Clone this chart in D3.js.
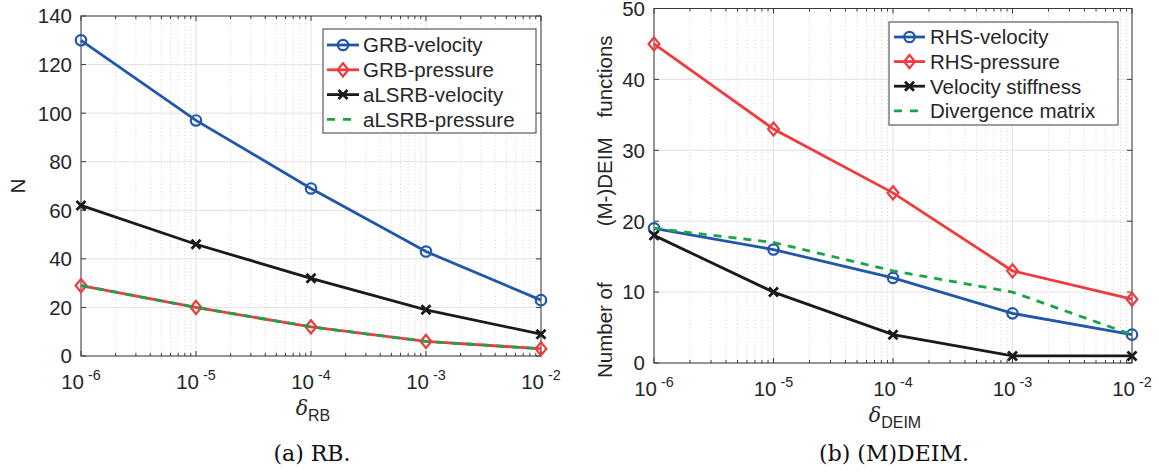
<!DOCTYPE html>
<html>
<head>
<meta charset="utf-8">
<script src="https://cdn.jsdelivr.net/npm/d3@7"></script>
<style>
  body { margin: 0; background: #fff; }
  svg { display: block; }
</style>
</head>
<body>
<div id="chart"></div>
<script>
// tolerances on the x axis (shared by both panels)
const deltas = [1e-6, 1e-5, 1e-4, 1e-3, 1e-2];

// (a) RB
const grbVelocity = [130, 97, 69, 43, 23];
const grbPressure = [29, 20, 12, 6, 3];
const alsrbVelocity = [62, 46, 32, 19, 9];
const alsrbPressure = [29, 20, 12, 6, 3];

// (b) (M)DEIM
const rhsVelocity = [19, 16, 12, 7, 4];
const rhsPressure = [45, 33, 24, 13, 9];
const velocityStiffness = [18, 10, 4, 1, 1];
const divergenceMatrix = [19, 17, 13, 10, 4];

const rbTicks = [0, 20, 40, 60, 80, 100, 120, 140];
const deimTicks = [0, 10, 20, 30, 40, 50];
const xExponents = ["-6", "-5", "-4", "-3", "-2"];

const BLUE = "#2157a8", RED = "#ee3b3d", BLACK = "#1a1a1a", GREEN = "#1aa34a";
const TEXT = "#262626";
const SANS = "'Liberation Sans', Arial, Helvetica, sans-serif";
const SERIF = "'DejaVu Serif', 'Liberation Serif', serif";
const FS = 20.5;

const width = 1159, height = 474;
const svg = d3.select("#chart").append("svg")
    .attr("width", width)
    .attr("height", height)
    .attr("viewBox", `0 0 ${width} ${height}`);

function drawMarker(sel, type, color) {
    if (type === "o") {
        sel.append("circle").attr("r", 5.2)
            .attr("fill", "none").attr("stroke", color).attr("stroke-width", 2.2);
    } else if (type === "d") {
        sel.append("path").attr("d", "M0,-6.6L5.4,0L0,6.6L-5.4,0Z")
            .attr("fill", "none").attr("stroke", color).attr("stroke-width", 2.2);
    } else if (type === "x") {
        sel.append("path").attr("d", "M-4.5,-4.5L4.5,4.5M-4.5,4.5L4.5,-4.5")
            .attr("fill", "none").attr("stroke", color).attr("stroke-width", 2.8);
    }
}

function drawPanel(p) {
    const x = d3.scaleLog().domain([1e-6, 1e-2]).range([p.left, p.right]);
    const y = d3.scaleLinear().domain([0, p.yMax]).range([p.bottom, p.top]);
    const g = svg.append("g");

    // Minor x values for the log grid
    const minors = [];
    for (let e = -6; e < -2; e++) {
        for (let k = 2; k <= 9; k++) minors.push(k * Math.pow(10, e));
    }

    // Grid: minor dotted verticals, major solid
    g.selectAll(".minor-grid").data(minors).join("line")
        .attr("x1", d => x(d)).attr("x2", d => x(d))
        .attr("y1", p.top).attr("y2", p.bottom)
        .attr("stroke", "#c9c9c9").attr("stroke-width", 0.8)
        .attr("stroke-dasharray", "1,2.5");
    g.selectAll(".major-grid-x").data(deltas).join("line")
        .attr("x1", d => x(d)).attr("x2", d => x(d))
        .attr("y1", p.top).attr("y2", p.bottom)
        .attr("stroke", "#e2e2e2").attr("stroke-width", 1);
    g.selectAll(".major-grid-y").data(p.yTicks).join("line")
        .attr("x1", p.left).attr("x2", p.right)
        .attr("y1", d => y(d)).attr("y2", d => y(d))
        .attr("stroke", "#e2e2e2").attr("stroke-width", 1);

    // Axes box
    g.append("rect")
        .attr("x", p.left).attr("y", p.top)
        .attr("width", p.right - p.left).attr("height", p.bottom - p.top)
        .attr("fill", "none").attr("stroke", "#3a3a3a").attr("stroke-width", 1);

    // Ticks (inward, on all four sides)
    const tk = "#3a3a3a";
    g.selectAll(".ytick-l").data(p.yTicks).join("line")
        .attr("x1", p.left).attr("x2", p.left + 5)
        .attr("y1", d => y(d)).attr("y2", d => y(d)).attr("stroke", tk);
    g.selectAll(".ytick-r").data(p.yTicks).join("line")
        .attr("x1", p.right).attr("x2", p.right - 5)
        .attr("y1", d => y(d)).attr("y2", d => y(d)).attr("stroke", tk);
    g.selectAll(".xtick-b").data(deltas).join("line")
        .attr("x1", d => x(d)).attr("x2", d => x(d))
        .attr("y1", p.bottom).attr("y2", p.bottom - 5).attr("stroke", tk);
    g.selectAll(".xtick-t").data(deltas).join("line")
        .attr("x1", d => x(d)).attr("x2", d => x(d))
        .attr("y1", p.top).attr("y2", p.top + 5).attr("stroke", tk);
    g.selectAll(".xminor-b").data(minors).join("line")
        .attr("x1", d => x(d)).attr("x2", d => x(d))
        .attr("y1", p.bottom).attr("y2", p.bottom - 3).attr("stroke", tk);
    g.selectAll(".xminor-t").data(minors).join("line")
        .attr("x1", d => x(d)).attr("x2", d => x(d))
        .attr("y1", p.top).attr("y2", p.top + 3).attr("stroke", tk);

    // Tick labels
    g.selectAll(".ylabel").data(p.yTicks).join("text")
        .attr("x", p.left - 9).attr("y", d => y(d))
        .attr("dy", "0.36em")
        .attr("text-anchor", "end")
        .attr("font-family", SANS).attr("font-size", FS)
        .attr("fill", TEXT)
        .text(d => d);
    const xl = g.selectAll(".xlabel").data(deltas).join("text")
        .attr("x", d => x(d)).attr("y", p.bottom + 33)
        .attr("text-anchor", "middle")
        .attr("font-family", SANS).attr("font-size", FS)
        .attr("fill", TEXT);
    xl.append("tspan").text("10");
    xl.append("tspan").attr("dx", 4).attr("dy", -9)
        .attr("font-size", FS * 0.7).text((d, i) => xExponents[i]);

    // Series
    const line = d3.line().x(d => x(d[0])).y(d => y(d[1]));
    p.series.forEach(s => {
        const pts = deltas.map((d, i) => [d, s.values[i]]);
        g.append("path").datum(pts)
            .attr("d", line)
            .attr("fill", "none")
            .attr("stroke", s.color)
            .attr("stroke-width", 2.8)
            .attr("stroke-dasharray", s.dash ? "8,7" : null);
        if (s.marker) {
            g.selectAll(null).data(pts).join("g")
                .attr("transform", d => `translate(${x(d[0])},${y(d[1])})`)
                .each(function () { drawMarker(d3.select(this), s.marker, s.color); });
        }
    });

    // Legend
    const L = p.legend;
    g.append("rect")
        .attr("x", L.x0).attr("y", L.y0)
        .attr("width", L.x1 - L.x0).attr("height", L.y1 - L.y0)
        .attr("fill", "#fff").attr("stroke", "#3a3a3a").attr("stroke-width", 1);
    p.series.forEach((s, i) => {
        const yy = L.rowY + i * L.step;
        g.append("line")
            .attr("x1", L.sx0).attr("x2", L.sx1)
            .attr("y1", yy).attr("y2", yy)
            .attr("stroke", s.color).attr("stroke-width", 2.8)
            .attr("stroke-dasharray", s.dash ? "8,8" : null);
        if (s.marker) {
            const m = g.append("g").attr("transform", `translate(${(L.sx0 + L.sx1) / 2},${yy})`);
            drawMarker(m, s.marker, s.color);
        }
        g.append("text")
            .attr("x", L.tx).attr("y", yy).attr("dy", "0.36em")
            .attr("font-family", SANS).attr("font-size", FS)
            .attr("fill", TEXT)
            .text(s.name);
    });

    // x axis label: delta with subscript
    const cx = (p.left + p.right) / 2;
    const xt = g.append("text")
        .attr("x", cx + 2).attr("y", p.bottom + 59)
        .attr("text-anchor", "middle")
        .attr("fill", TEXT);
    xt.append("tspan").attr("font-family", SERIF).attr("font-style", "italic")
        .attr("font-size", FS).text("δ");
    xt.append("tspan").attr("font-family", SANS).attr("font-size", FS * 0.78)
        .attr("dy", 6).text(p.sub);

    // Caption
    g.append("text")
        .attr("x", cx + 1).attr("y", 461)
        .attr("text-anchor", "middle")
        .attr("font-family", SERIF).attr("font-size", 22)
        .attr("fill", "#111")
        .text(p.caption);
}

drawPanel({
    left: 81, right: 541, top: 16, bottom: 356, yMax: 140, yTicks: rbTicks,
    sub: "RB", caption: "(a) RB.",
    series: [
        { name: "GRB-velocity", values: grbVelocity, color: BLUE, marker: "o" },
        { name: "GRB-pressure", values: grbPressure, color: RED, marker: "d" },
        { name: "aLSRB-velocity", values: alsrbVelocity, color: BLACK, marker: "x" },
        { name: "aLSRB-pressure", values: alsrbPressure, color: GREEN, dash: true }
    ],
    legend: { x0: 323, x1: 536, y0: 29, y1: 133, rowY: 45, step: 24.8, sx0: 327, sx1: 359, tx: 363 }
});

drawPanel({
    left: 654, right: 1132, top: 8.5, bottom: 363, yMax: 50, yTicks: deimTicks,
    sub: "DEIM", caption: "(b) (M)DEIM.",
    series: [
        { name: "RHS-velocity", values: rhsVelocity, color: BLUE, marker: "o" },
        { name: "RHS-pressure", values: rhsPressure, color: RED, marker: "d" },
        { name: "Velocity stiffness", values: velocityStiffness, color: BLACK, marker: "x" },
        { name: "Divergence matrix", values: divergenceMatrix, color: GREEN, dash: true }
    ],
    legend: { x0: 889, x1: 1118, y0: 22, y1: 125, rowY: 37, step: 24.6, sx0: 894, sx1: 925, tx: 930 }
});

// y axis titles
svg.append("text")
    .attr("transform", "translate(25,186) rotate(-90)")
    .attr("text-anchor", "middle")
    .attr("font-family", SANS).attr("font-size", FS)
    .attr("fill", TEXT)
    .text("N");

const yt = svg.append("text")
    .attr("transform", "translate(612,378) rotate(-90)")
    .attr("text-anchor", "start")
    .attr("font-family", SANS).attr("font-size", FS)
    .attr("fill", TEXT);
yt.append("tspan").text("Number of");
yt.append("tspan").attr("dx", 56).text("(M-)DEIM");
yt.append("tspan").attr("dx", 20).text("functions");
</script>
</body>
</html>
